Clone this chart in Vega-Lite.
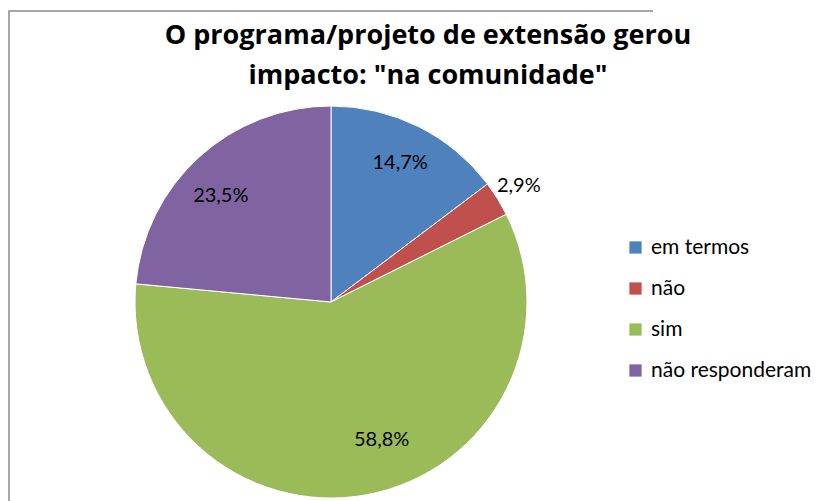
{
  "$schema": "https://vega.github.io/schema/vega-lite/v6.json",
  "autosize": {"type": "none"},
  "padding": {"left": 9, "top": 11, "right": 174, "bottom": 0},
  "width": 644,
  "height": 582,
  "background": "white",
  "title": {
    "text": ["O programa/projeto de extensão gerou", "impacto: \"na comunidade\""],
    "font": "Open Sans",
    "fontSize": 27,
    "fontWeight": "bold",
    "color": "#000000",
    "lineHeight": 40,
    "anchor": "middle",
    "baseline": "top",
    "dx": 97,
    "offset": -79
  },
  "config": {
    "locale": {"number": {"decimal": ",", "thousands": ".", "grouping": [3], "currency": ["R$", ""]}},
    "font": "Lato"
  },
  "data": {
    "values": [
      {"resposta": "em termos", "pct": 0.147, "ordem": 1},
      {"resposta": "não", "pct": 0.029, "ordem": 2},
      {"resposta": "sim", "pct": 0.588, "ordem": 3},
      {"resposta": "não responderam", "pct": 0.235, "ordem": 4}
    ]
  },
  "view": {"stroke": "#8a8a8a", "strokeWidth": 1.5, "strokeDash": [644, 1226, 582]},
  "encoding": {
    "theta": {"field": "pct", "type": "quantitative", "stack": true},
    "order": {"field": "ordem", "type": "quantitative"}
  },
  "layer": [
    {
      "mark": {"type": "arc", "outerRadius": 196, "stroke": "#ffffff", "strokeWidth": 1},
      "encoding": {
        "color": {
          "field": "resposta",
          "type": "nominal",
          "sort": ["em termos", "não", "sim", "não responderam"],
          "scale": {
            "domain": ["em termos", "não", "sim", "não responderam"],
            "range": ["#4F81BD", "#C0504D", "#9BBB59", "#8064A2"]
          },
          "legend": {
            "orient": "none",
            "legendX": 616,
            "legendY": 226,
            "title": null,
            "padding": 0,
            "symbolType": "square",
            "symbolSize": 150,
            "symbolStrokeWidth": 0,
            "labelFont": "Lato",
            "labelFontSize": 21,
            "labelColor": "#000000",
            "labelOffset": 5,
            "rowPadding": 19,
            "labelLimit": 300
          }
        }
      }
    },
    {
      "mark": {"type": "text", "radius": 155, "font": "Lato", "fontSize": 20, "color": "#000000"},
      "encoding": {
        "text": {"field": "pct", "type": "quantitative", "format": ".1%",
          "condition": {"test": "datum.resposta != 'em termos'", "value": ""}}
      }
    },
    {
      "mark": {"type": "text", "radius": 221, "font": "Lato", "fontSize": 20, "color": "#000000"},
      "encoding": {
        "text": {"field": "pct", "type": "quantitative", "format": ".1%",
          "condition": {"test": "datum.resposta != 'não'", "value": ""}}
      }
    },
    {
      "mark": {"type": "text", "radius": 147, "thetaOffset": -0.166, "font": "Lato", "fontSize": 20, "color": "#000000"},
      "encoding": {
        "text": {"field": "pct", "type": "quantitative", "format": ".1%",
          "condition": {"test": "datum.resposta != 'sim'", "value": ""}}
      }
    },
    {
      "mark": {"type": "text", "radius": 153, "thetaOffset": -0.065, "font": "Lato", "fontSize": 20, "color": "#000000"},
      "encoding": {
        "text": {"field": "pct", "type": "quantitative", "format": ".1%",
          "condition": {"test": "datum.resposta != 'não responderam'", "value": ""}}
      }
    }
  ]
}
